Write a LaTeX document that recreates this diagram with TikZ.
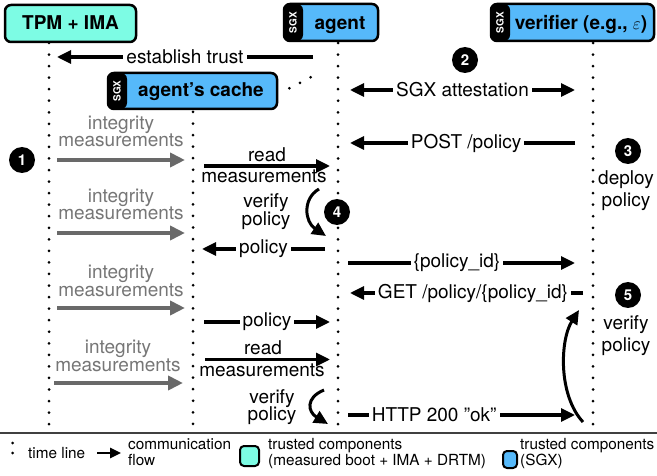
\documentclass[tikz,border=0pt]{standalone}
\usepackage{fontspec}
\setmainfont{TeX Gyre Heros}
\setsansfont{TeX Gyre Heros}
\usetikzlibrary{arrows.meta}
\definecolor{tpmcol}{RGB}{125,252,228}
\definecolor{sgxcol}{RGB}{86,185,250}
\definecolor{graycol}{RGB}{105,105,105}
\definecolor{graytxt}{RGB}{118,118,118}
\begin{document}
\begin{tikzpicture}[x=1pt,y=-1pt,
  tl/.style={line width=3pt, dash pattern=on 0pt off 11.55pt, line cap=round},
  msg/.style={line width=3.2pt, -{Triangle[length=14pt,width=13pt]}},
  dmsg/.style={line width=3.2pt, {Triangle[length=14pt,width=13pt]}-{Triangle[length=14pt,width=13pt]}},
  gmsg/.style={graycol, line width=4pt, -{Triangle[length=15pt,width=14pt]}},
  lab/.style={fill=white, text=black, inner xsep=3pt, inner ysep=0pt, font=\fontsize{19}{19}\selectfont},
  txt/.style={inner sep=0pt, anchor=base, font=\fontsize{19}{19}\selectfont},
  gtxt/.style={txt, text=graytxt},
  title/.style={inner sep=0pt, anchor=base, font=\fontsize{19}{19}\selectfont\bfseries},
  box/.style={draw, line width=2.5pt, rounded corners=6pt, inner sep=0pt},
  sgxbox/.style={box, fill=sgxcol, path picture={\fill[black] (path picture bounding box.south west) rectangle ([xshift=19pt]path picture bounding box.north west);}},
  sgxlbl/.style={rotate=90, text=white, inner sep=0pt, font=\fontsize{10}{10}\selectfont\bfseries},
  num/.style={circle, fill=black, text=white, minimum size=26pt, inner sep=0pt, font=\fontsize{15}{15}\selectfont\bfseries},
  leg/.style={inner sep=0pt, anchor=base west, font=\fontsize{15.3}{15.3}\selectfont},
  legbox/.style={draw, line width=2pt, rounded corners=4pt, inner sep=0pt},
]
\useasboundingbox (0,0) rectangle (657,476);

% boxes
\node[box, fill=tpmcol, minimum width=131pt, minimum height=37pt] (tpm) at (70.5,23.5) {};
\node[title] (tpmt) at (70.5,30) {TPM + IMA};
\node[sgxbox, minimum width=94pt, minimum height=37pt] (agent) at (331,22.5) {};
\node[sgxlbl] (agentsgx) at (293,22.5) {SGX};
\node[title] (agentt) at (340,29.5) {agent};
\node[sgxbox, minimum width=163pt, minimum height=37pt] (ver) at (572.5,22.5) {};
\node[sgxlbl] (versgx) at (500,22.5) {SGX};
\node[title] (vert) at (581,30) {verifier (e.g., {\mdseries$\varepsilon$})};
\node[sgxbox, minimum width=169pt, minimum height=36pt] (cache) at (192.5,91) {};
\node[sgxlbl] (cachesgx) at (117,91) {SGX};
\node[title] (cachet) at (201,97) {agent's cache};

% lifelines
\coordinate (tpmtop) at (49,43);   \coordinate (tpmbot) at (49,424.2);
\coordinate (cachetop) at (193,112); \coordinate (cachebot) at (193,424);
\coordinate (agtop) at (338,43);   \coordinate (agbot) at (338,424.2);
\coordinate (vertop) at (593,43);  \coordinate (verbot) at (593,424.2);
\draw[tl] (tpmtop) -- (tpmbot);
\draw[tl] (cachetop) -- (cachebot);
\draw[tl] (agtop) -- (agbot);
\draw[tl] (vertop) -- (verbot);
\coordinate (cd1) at (289.3,88.3); \coordinate (cd2) at (310.7,77.3);
\draw[tl, dash pattern=on 0pt off 12pt] (cd1) -- (cd2);

% messages
\coordinate (m1a) at (313,57); \coordinate (m1b) at (57,57);
\draw[msg] (m1a) -- node[lab] {establish trust} (m1b);
\coordinate (m2a) at (350,90); \coordinate (m2b) at (575,90);
\draw[dmsg] (m2a) -- node[lab] {SGX attestation} (m2b);
\coordinate (m3a) at (575,143); \coordinate (m3b) at (350,143);
\draw[msg] (m3a) -- node[lab, pos=0.484] {POST /policy} (m3b);

% integrity measurements
\coordinate (g1a) at (57,160); \coordinate (g1b) at (185,160);
\draw[gmsg] (g1a) -- (g1b);
\node[gtxt] (g1t1) at (121,130) {integrity};
\node[gtxt] (g1t2) at (121,147) {measurements};
\coordinate (g2a) at (57,233); \coordinate (g2b) at (185,233);
\draw[gmsg] (g2a) -- (g2b);
\node[gtxt] (g2t1) at (121,203) {integrity};
\node[gtxt] (g2t2) at (121,220) {measurements};
\coordinate (g3a) at (57,308); \coordinate (g3b) at (185,308);
\draw[gmsg] (g3a) -- (g3b);
\node[gtxt] (g3t1) at (121,279) {integrity};
\node[gtxt] (g3t2) at (121,297) {measurements};
\coordinate (g4a) at (54,383); \coordinate (g4b) at (183,383);
\draw[gmsg] (g4a) -- (g4b);
\node[gtxt] (g4t1) at (118,353) {integrity};
\node[gtxt] (g4t2) at (118,371) {measurements};

% read measurements 1
\coordinate (r1a) at (204,166); \coordinate (r1b) at (330,166);
\draw[msg] (r1a) -- (r1b);
\node[txt] (r1t1) at (267,161.5) {read};
\node[txt] (r1t2) at (264,183) {measurements};

% verify policy 1
\coordinate (v1a) at (319,189); \coordinate (v1b) at (326,236);
\draw[msg, line width=3pt] (v1a) .. controls (302,199) and (305,222) .. (v1b);
\node[txt] (v1t1) at (266,208) {verify};
\node[txt] (v1t2) at (266,226) {policy};

% policy back to cache
\coordinate (p1a) at (325,249); \coordinate (p1b) at (202,249);
\draw[msg] (p1a) -- node[lab] {policy} (p1b);

% policy id
\coordinate (m4a) at (348,263); \coordinate (m4b) at (575,263);
\draw[msg] (m4a) -- node[lab, pos=0.48] {\{policy\_id\}} (m4b);

% GET
\coordinate (m5a) at (583,293); \coordinate (m5b) at (350,293);
\draw[msg] (m5a) -- node[lab, pos=0.472] {GET /policy/\{policy\_id\}} (m5b);

% policy to agent
\coordinate (p2a) at (204,322); \coordinate (p2b) at (330,322);
\draw[msg] (p2a) -- node[lab] {policy} (p2b);

% read measurements 2
\coordinate (r2a) at (205,359.5); \coordinate (r2b) at (330,359.5);
\draw[msg] (r2a) -- (r2b);
\node[txt] (r2t1) at (263,355) {read};
\node[txt] (r2t2) at (262,377) {measurements};

% verify policy 2
\coordinate (v2a) at (324,390); \coordinate (v2b) at (328,424);
\draw[msg, line width=3pt] (v2a) .. controls (305,398) and (308,412) .. (v2b);
\node[txt] (v2t1) at (272,403) {verify};
\node[txt] (v2t2) at (272,420) {policy};

% HTTP 200
\coordinate (m6a) at (348,415); \coordinate (m6b) at (575,415);
\draw[msg] (m6a) -- node[lab, pos=0.38] {HTTP 200 ”ok”} (m6b);

% verify curve at verifier
\coordinate (c5a) at (583,422); \coordinate (c5b) at (579,310);
\draw[msg, line width=3pt] (c5a) .. controls (558,395) and (560,340) .. (c5b);

% step numbers
\node[num] (n1) at (22,160) {1};
\node[num] (n2) at (465,60) {2};
\node[num] (n3) at (628,151) {3};
\node[num] (n4) at (337,212) {4};
\node[num] (n5) at (628,295) {5};
\node[txt] (n3t1) at (626,185) {deploy};
\node[txt] (n3t2) at (626,207) {policy};
\node[txt] (n5t1) at (626,330) {verify};
\node[txt] (n5t2) at (626,352) {policy};

% separator
\coordinate (s1) at (0,433); \coordinate (s2) at (657,433);
\draw[black!75, line width=1.5pt] (s1) -- (s2);

% legend
\coordinate (ld1) at (12.7,443); \coordinate (ld2) at (12.7,463);
\draw[tl, dash pattern=on 0pt off 10pt] (ld1) -- (ld2);
\node[leg] (lt1) at (28,458) {time line};
\coordinate (la1) at (97,453); \coordinate (la2) at (121,453);
\draw[line width=2.5pt, -{Triangle[length=11pt,width=10pt]}] (la1) -- (la2);
\node[leg] (lc1) at (128,449.5) {communication};
\node[leg] (lc2) at (128,465.5) {flow};
\node[legbox, fill=tpmcol, minimum width=19pt, minimum height=20pt] (lb1) at (249.5,456) {};
\node[leg] (lm1) at (268,449.5) {trusted components};
\node[leg] (lm2) at (268,465.5) {(measured boot + IMA + DRTM)};
\node[legbox, fill=sgxcol, minimum width=14pt, minimum height=17pt] (lb2) at (510,459.5) {};
\node[leg] (ls1) at (520,449.5) {trusted components};
\node[leg] (ls2) at (520,465.5) {(SGX)};
\end{tikzpicture}
\end{document}
